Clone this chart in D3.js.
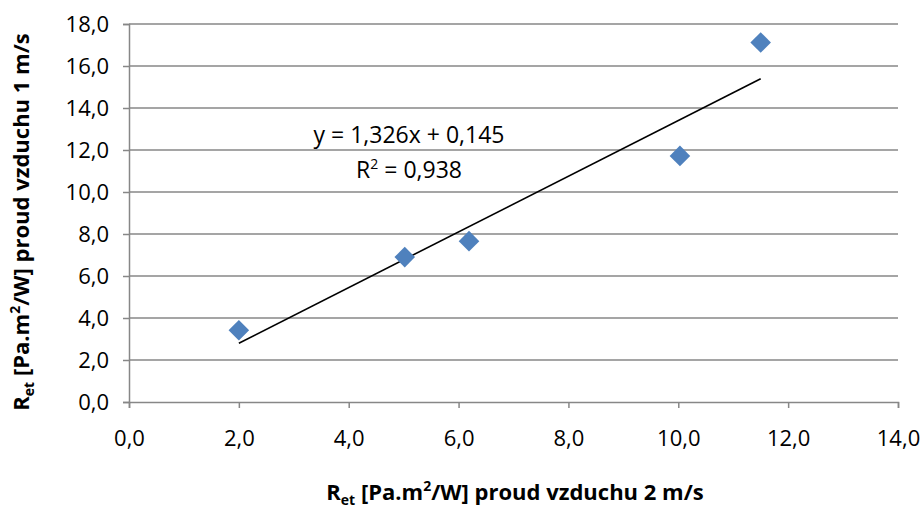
<!DOCTYPE html>
<html><head><meta charset="utf-8">
<script src="https://cdn.jsdelivr.net/npm/d3@7"></script>
<style>body{margin:0;background:#fff;} svg{display:block;font-family:"Open Sans",sans-serif;}</style>
</head><body>
<svg id="c" width="924" height="509"></svg>
<script>
const xValues = [2.0, 5.02, 6.19, 10.03, 11.5];
const yValues = [3.42, 6.9, 7.66, 11.72, 17.12];
const xTicks = [0, 2, 4, 6, 8, 10, 12, 14];
const yTicks = [0, 2, 4, 6, 8, 10, 12, 14, 16, 18];
const trendSlope = [1.326];
const trendIntercept = [0.145];
const eqLabel = "y = 1,326x + 0,145";

const FF = "'Open Sans',sans-serif";
const svg = d3.select("#c");
const m = {l:129, r:26, t:24, b:107};
const W = 924, H = 509;
const x = d3.scaleLinear().domain([0,14]).range([m.l, W-m.r]);
const y = d3.scaleLinear().domain([0,18]).range([H-m.b, m.t]);
const fmt = d => d.toFixed(1).replace(".", ",");
const grid = "#878787";

svg.append("g").selectAll("line").data(yTicks.filter(d=>d>0)).join("line")
  .attr("x1", x(0)).attr("x2", x(14)).attr("y1", d=>y(d)).attr("y2", d=>y(d))
  .attr("stroke", grid).attr("stroke-width", 1.5);

const xa = svg.append("g").attr("transform",`translate(0,${y(0)})`)
  .call(d3.axisBottom(x).tickValues(xTicks).tickFormat(fmt).tickSize(6).tickPadding(22));
const ya = svg.append("g").attr("transform",`translate(${x(0)},0)`)
  .call(d3.axisLeft(y).tickValues(yTicks).tickFormat(fmt).tickSize(6).tickPadding(14));
[xa, ya].forEach(a=>{
  a.selectAll("path,line").attr("stroke", grid).attr("stroke-width", 1.5);
  a.selectAll("text").attr("font-size", 22).attr("fill", "#000").attr("font-family", FF);
});
ya.selectAll("text").attr("dy","0.36em");
xa.selectAll("text").attr("dy","0.72em");

const xmin = d3.min(xValues), xmax = d3.max(xValues);
svg.append("line")
  .attr("x1", x(xmin)).attr("y1", y(trendSlope[0]*xmin+trendIntercept[0]))
  .attr("x2", x(xmax)).attr("y2", y(trendSlope[0]*xmax+trendIntercept[0]))
  .attr("stroke", "#000").attr("stroke-width", 1.6);

const pts = xValues.map((v,i)=>[v, yValues[i]]);
svg.append("g").selectAll("path").data(pts).join("path")
  .attr("d", d3.symbol().type(d3.symbolDiamond2).size(270))
  .attr("transform", d=>`translate(${x(d[0])},${y(d[1])})`)
  .attr("fill", "#4F81BD");

svg.append("text").attr("x", 409).attr("y", 143).attr("text-anchor","middle")
  .attr("font-size", 23).attr("fill","#000").text(eqLabel);
const r2 = svg.append("text").attr("x", 409).attr("y", 178).attr("text-anchor","middle")
  .attr("font-size", 23).attr("fill","#000");
r2.append("tspan").text("R");
r2.append("tspan").attr("font-size", 14).attr("dy", -9).text("2");
r2.append("tspan").attr("dy", 9).text(" = 0,938");

function title(sel, tail){
  sel.append("tspan").text("R");
  sel.append("tspan").attr("font-size", 14).attr("dy", 5).text("et");
  sel.append("tspan").attr("dy", -5).text(" [Pa.m");
  sel.append("tspan").attr("font-size", 14).attr("dy", -9).text("2");
  sel.append("tspan").attr("dy", 9).text(tail);
}
const xt = svg.append("text").attr("x", 515).attr("y", 500).attr("text-anchor","middle")
  .attr("font-size", 22).attr("font-weight","bold").attr("fill","#000");
title(xt, "/W] proud vzduchu 2 m/s");
const yt = svg.append("text").attr("transform","translate(29,222) rotate(-90)").attr("text-anchor","middle")
  .attr("font-size", 22).attr("font-weight","bold").attr("fill","#000");
title(yt, "/W] proud vzduchu 1 m/s");
</script>
</body></html>
